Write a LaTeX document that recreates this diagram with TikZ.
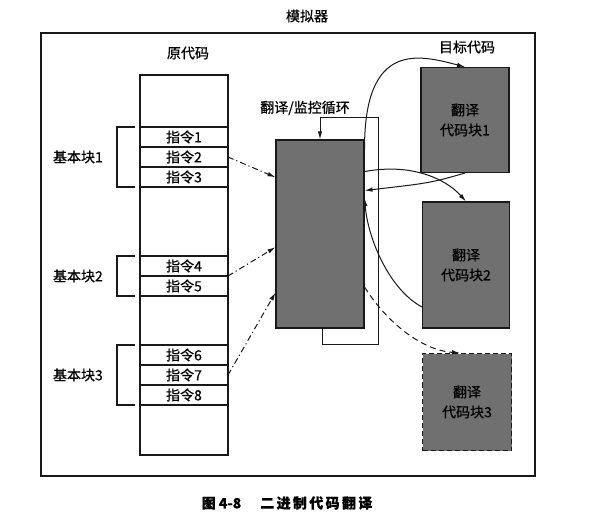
\documentclass[tikz,border=0pt]{standalone}
\usepackage{fontspec}
\newfontfamily\cjk[FakeBold=0.6]{Noto Sans CJK SC}
\usetikzlibrary{arrows.meta,positioning,calc}
\definecolor{simblock}{RGB}{112,112,112}
\definecolor{simline}{RGB}{25,25,25}
\tikzset{
  sim text/.style={
    font=\cjk\fontsize{14}{20}\selectfont,
    inner sep=0pt,
  },
  src cell/.style={
    draw=simline,
    fill=white,
    line width=1.1pt,
    minimum width=88pt,
    minimum height=20pt,
    inner sep=0pt,
    outer sep=0pt,
    font=\cjk\fontsize{14}{16}\selectfont,
  },
  code box/.style={
    draw=simline,
    fill=simblock,
    line width=1.1pt,
    align=center,
    inner sep=0pt,
    font=\cjk\fontsize{14}{20}\selectfont,
  },
  sim line/.style={
    draw=simline,
    line width=1.2pt,
  },
  sim arrow/.style={
    -{Latex[length=8pt,width=4.5pt]},
    line width=1pt,
    draw=simline,
  },
  jump arrow/.style={
    sim arrow,
    dash pattern=on 6pt off 3pt on 1.2pt off 3pt,
  },
}

\begin{document}
\begin{tikzpicture}[x=1pt,y=-1pt]
  \useasboundingbox (0,0) rectangle (590,524);
  \node[sim text] (title) at (307,16) {模拟器};
  \draw[sim line] (41,33) rectangle (535,476);

  % source code column
  \node[sim text] (srclbl) at (188,53) {原代码};
  \node[src cell, minimum height=380pt] (src) at (184,265) {};
  \node[src cell] (ins1) at (184,137) {指令1};
  \node[src cell, below=0pt of ins1] (ins2) {指令2};
  \node[src cell, below=0pt of ins2] (ins3) {指令3};
  \node[src cell] (ins4) at (184,266) {指令4};
  \node[src cell, below=0pt of ins4] (ins5) {指令5};
  \node[src cell] (ins6) at (184,355) {指令6};
  \node[src cell, below=0pt of ins6] (ins7) {指令7};
  \node[src cell, below=0pt of ins7] (ins8) {指令8};

  % basic blocks
  \draw[sim line] ([xshift=-5pt]ins1.north west) -| ([xshift=-23pt]ins3.south west) -- ([xshift=-5pt]ins3.south west);
  \draw[sim line] ([xshift=-5pt]ins4.north west) -| ([xshift=-23pt]ins5.south west) -- ([xshift=-5pt]ins5.south west);
  \draw[sim line] ([xshift=-5pt]ins6.north west) -| ([xshift=-23pt]ins8.south west) -- ([xshift=-5pt]ins8.south west);
  \node[sim text, left=37pt of ins2.west] (bb1) {基本块1};
  \node[sim text, left=37pt of ins4.south west] (bb2) {基本块2};
  \node[sim text, left=37pt of ins7.west] (bb3) {基本块3};

  % translate / monitor loop
  \node[sim text] (looplbl) at (305,108) {翻译/监控循环};
  \node[code box, minimum width=88pt, minimum height=188pt] (mon) at (320,234) {};
  \coordinate (loopbr) at (378,345);
  \coordinate (looptr) at (378,118);
  \draw[sim arrow] ([xshift=2pt]mon.south) |- (loopbr) -- (looptr) -| (mon.north);

  % target code
  \node[sim text] (tgtlbl) at (467,47) {目标代码};
  \node[code box, minimum width=88pt, minimum height=105pt] (blk1) at (465,120) {翻译\\代码块1};
  \node[code box, minimum width=87pt, minimum height=126pt] (blk2) at (466,265) {翻译\\代码块2};
  \node[code box, minimum width=89pt, minimum height=97pt, dash pattern=on 5pt off 3pt] (blk3) at (467,402) {翻译\\代码块3};

  % jumps
  \draw[jump arrow] (ins2.east) -- ($(mon.north west)!0.2!(mon.south west)$);
  \draw[jump arrow] (ins4.south east) -- ($(mon.north west)!0.57!(mon.south west)$);
  \draw[jump arrow] (ins7.east) -- ($(mon.north west)!0.81!(mon.south west)$);
  \draw[sim arrow] ([yshift=-10pt]mon.north east) .. controls (364,40) and (420,55) .. (blk1.north);
  \draw[sim arrow] ($(mon.north east)!0.17!(mon.south east)$) .. controls (410,163) and (445,178) .. (blk2.north);
  \draw[sim arrow] (blk1.south) .. controls (430,183) .. ($(mon.north east)!0.27!(mon.south east)$);
  \draw[sim arrow] ($(blk2.north west)!0.83!(blk2.south west)$) .. controls (390,290) and (368,240) .. ($(mon.north east)!0.31!(mon.south east)$);
  \draw[sim arrow, dash pattern=on 6pt off 4pt] ($(mon.north east)!0.78!(mon.south east)$) .. controls (385,320) and (420,350) .. ([xshift=-7pt]blk3.north);

  \node[font=\cjk\bfseries\fontsize{14}{16}\selectfont] (caption) at (287,503) {图 4-8\hspace{19pt}二\,进\,制\,代\,码\,翻\,译};
\end{tikzpicture}
\end{document}
